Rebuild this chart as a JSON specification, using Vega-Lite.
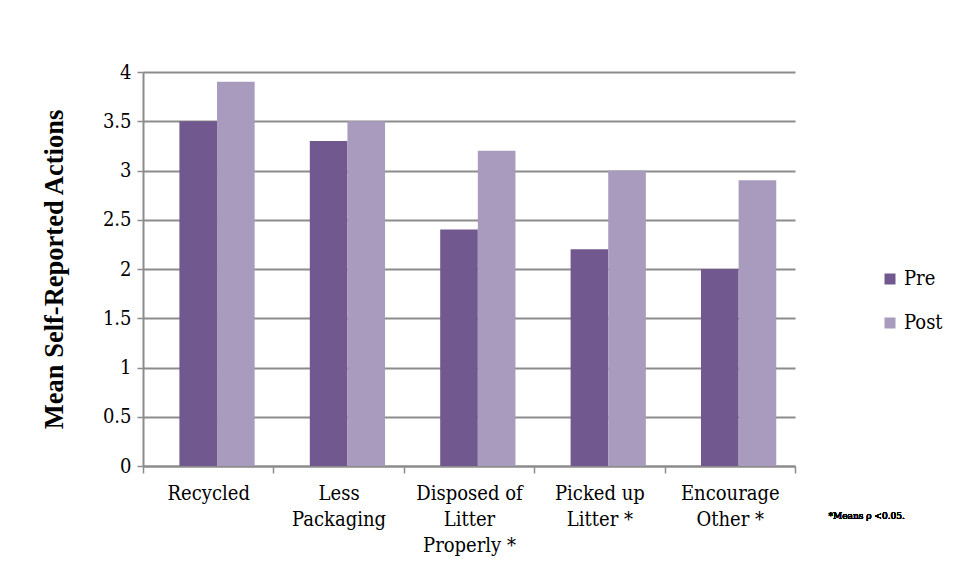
{
  "$schema": "https://vega.github.io/schema/vega-lite/v6.json",
  "autosize": {"type": "none"},
  "width": 652,
  "height": 394,
  "padding": {"left": 143, "top": 72, "right": 164, "bottom": 115},
  "background": "white",
  "config": {
    "view": {"stroke": null},
    "font": "DejaVu Serif Condensed",
    "axis": {"labelFont": "DejaVu Serif Condensed", "titleFont": "Liberation Serif", "labelColor": "black", "titleColor": "black"},
    "legend": {"labelFont": "DejaVu Serif Condensed"}
  },
  "data": {
    "values": [
      {"action": "Recycled", "time": "Pre", "mean": 3.5},
      {"action": "Recycled", "time": "Post", "mean": 3.9},
      {"action": "Less Packaging", "time": "Pre", "mean": 3.3},
      {"action": "Less Packaging", "time": "Post", "mean": 3.5},
      {"action": "Disposed of Litter Properly *", "time": "Pre", "mean": 2.4},
      {"action": "Disposed of Litter Properly *", "time": "Post", "mean": 3.2},
      {"action": "Picked up Litter *", "time": "Pre", "mean": 2.2},
      {"action": "Picked up Litter *", "time": "Post", "mean": 3.0},
      {"action": "Encourage Other *", "time": "Pre", "mean": 2.0},
      {"action": "Encourage Other *", "time": "Post", "mean": 2.9}
    ]
  },
  "layer": [
    {
      "mark": {"type": "bar"},
      "encoding": {
        "x": {
          "field": "action", "type": "nominal", "sort": null,
          "scale": {"paddingInner": 0, "paddingOuter": 0},
          "axis": {
            "title": null, "labelAngle": 0, "labelFontSize": 20, "labelPadding": 10,
            "labelLineHeight": 26, "labelBaseline": "top",
            "tickBand": "extent", "tickColor": "#8c8c8c", "tickSize": 7, "tickWidth": 1.5,
            "domainColor": "#8c8c8c", "domainWidth": 2,
            "labelExpr": "datum.value == 'Less Packaging' ? ['Less', 'Packaging'] : datum.value == 'Disposed of Litter Properly *' ? ['Disposed of', 'Litter', 'Properly *'] : datum.value == 'Picked up Litter *' ? ['Picked up', 'Litter *'] : datum.value == 'Encourage Other *' ? ['Encourage', 'Other *'] : datum.value"
          }
        },
        "xOffset": {
          "field": "time", "sort": ["Pre", "Post"],
          "scale": {"paddingInner": 0, "paddingOuter": 0.733, "align": 0.66}
        },
        "y": {
          "field": "mean", "type": "quantitative",
          "scale": {"domain": [0, 4], "nice": false},
          "axis": {
            "title": "Mean Self-Reported Actions", "titleFontSize": 26.5, "titleFontWeight": "bold",
            "titlePadding": 34,
            "values": [0, 0.5, 1, 1.5, 2, 2.5, 3, 3.5, 4], "format": ".1~f",
            "labelFontSize": 20, "labelPadding": 6,
            "tickColor": "#8c8c8c", "tickSize": 6, "tickWidth": 1.5,
            "domainColor": "#8c8c8c", "domainWidth": 2,
            "grid": true, "gridColor": "#8c8c8c", "gridWidth": 2
          }
        },
        "color": {
          "field": "time", "type": "nominal", "sort": ["Pre", "Post"],
          "scale": {"domain": ["Pre", "Post"], "range": ["#71588F", "#A99BBD"]},
          "legend": {
            "title": null, "orient": "none", "legendX": 737, "legendY": 197,
            "symbolType": "square", "symbolSize": 121, "symbolStrokeWidth": 0,
            "labelFontSize": 20, "labelColor": "black",
            "rowPadding": 24, "labelOffset": 4
          }
        }
      }
    },
    {
      "mark": {"type": "text", "font": "DejaVu Serif Condensed", "fontSize": 10, "align": "right", "baseline": "alphabetic", "dx": 175, "dy": 53, "color": "black"},
      "encoding": {
        "x": {"datum": "Encourage Other *"},
        "y": {"datum": 0},
        "text": {"value": "*Means ρ <0.05."}
      }
    }
  ]
}
